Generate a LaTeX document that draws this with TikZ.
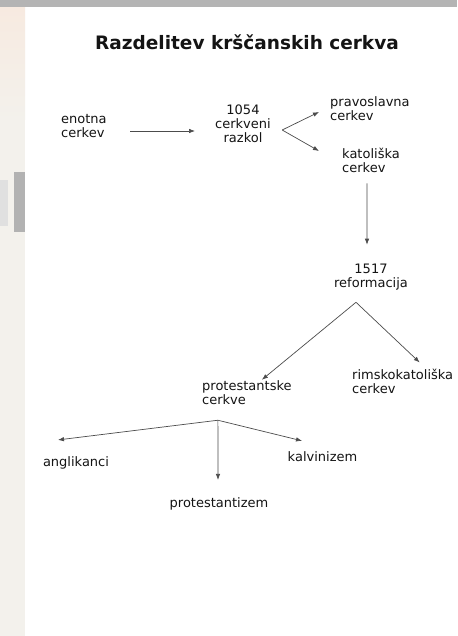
\documentclass[tikz,border=0pt]{standalone}
\usepackage{fontspec}
\setmainfont{DejaVu Sans}
\usetikzlibrary{arrows.meta}
\definecolor{stripwhite}{HTML}{F3F1EC}
\definecolor{stripwarm}{HTML}{F7EAE0}
\definecolor{bandgray}{HTML}{B4B4B4}

\begin{document}
\begin{tikzpicture}[x=1pt, y=-1pt,
                        every node/.style={font=\fontsize{13}{14}\selectfont, text=black!92, inner sep=2pt},
                        church/.style={align=left},
                        event/.style={align=center},
                        arr/.style={draw=black!70, line width=0.7pt, -{Latex[length=6pt,width=4.5pt]}}]
    \useasboundingbox (0,0) rectangle (457,636);
    \fill[white] (0,0) rectangle (457,636);
    \fill[stripwhite] (0,7) rectangle (25,636);
    \shade[top color=stripwarm, bottom color=stripwhite] (0,7) rectangle (25,120);
    \fill[black!12] (0,180) rectangle (8,226);
    \fill[black!30] (14,172) rectangle (25,232);
    \fill[bandgray] (0,0) rectangle (457,7);

    \node[font=\bfseries\fontsize{18.5}{20}\selectfont, anchor=base] (title) at (247,50) {Razdelitev krščanskih cerkva};

    \node[church, anchor=west] (enotna) at (59,126) {enotna\\cerkev};
    \node[event] (razkol) at (243,123.5) {1054\\cerkveni\\razkol};
    \node[church, anchor=west] (pravo) at (328,109) {pravoslavna\\cerkev};
    \node[church, anchor=west] (katol) at (340,160) {katoliška\\cerkev};
    \node[event] (reform) at (371,277) {1517\\reformacija};
    \node[church, anchor=west] (protest) at (200,393) {protestantske\\cerkve};
    \node[church, anchor=west] (rimsko) at (350,381.4) {rimskokatoliška\\cerkev};
    \node[anchor=base] (anglik) at (76,466) {anglikanci};
    \node[anchor=base] (protiz) at (219,507) {protestantizem};
    \node[anchor=base] (kalvin) at (322.5,461.5) {kalvinizem};

    \coordinate (razsplit) at ([xshift=9.2pt,yshift=-6.5pt]razkol.east);
    \coordinate (refsplit) at ([xshift=-15pt,yshift=-10pt]reform.south);
    \coordinate (protsplit) at ([xshift=-29pt,yshift=-13pt]protest.south);

    \draw[arr] ([xshift=21.5pt,yshift=-5pt]enotna.east) -- ([xshift=-18pt,yshift=-7.5pt]razkol.west);
    \draw[arr] (razsplit) -- ([xshift=-9pt,yshift=-3pt]pravo.west);
    \draw[arr] (razsplit) -- ([xshift=-21pt,yshift=9pt]katol.west);
    \draw[arr] ([xshift=-4pt,yshift=-9pt]katol.south) -- ([xshift=-4pt,yshift=17pt]reform.north);
    \draw[arr] (refsplit) -- ([xshift=15pt,yshift=-1pt]protest.north);
    \draw[arr] (refsplit) -- ([xshift=17pt,yshift=4.4pt]rimsko.north);
    \draw[arr] (protsplit) -- ([xshift=-18pt,yshift=14pt]anglik.north);
    \draw[arr] (protsplit) -- ([xshift=-1pt,yshift=15pt]protiz.north);
    \draw[arr] (protsplit) -- ([xshift=-20.5pt,yshift=8.6pt]kalvin.north);
\end{tikzpicture}
\end{document}
